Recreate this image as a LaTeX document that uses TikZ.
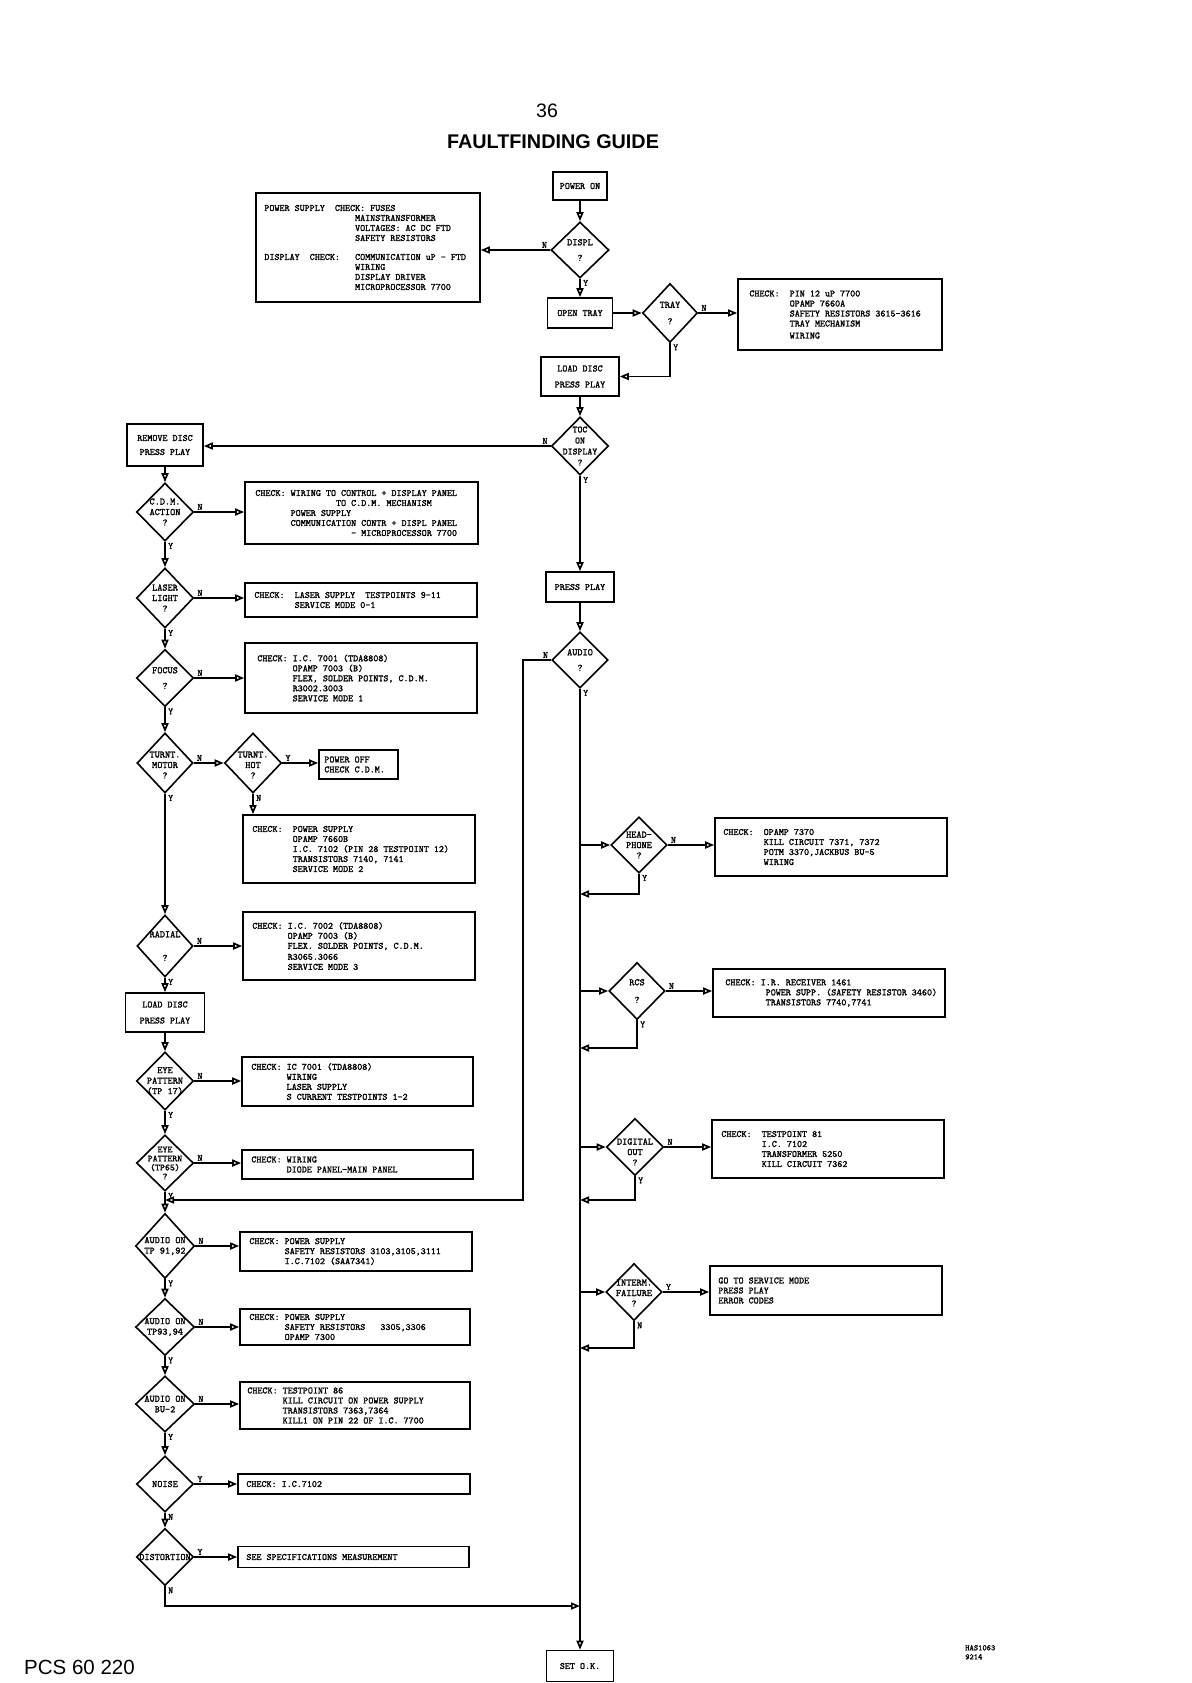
\documentclass[tikz,border=0pt]{standalone}
\usepackage{fontspec}
\newfontfamily\titlefont{Liberation Sans}
\newfontfamily\twfont{lmmono10-regular.otf}[FakeBold=1.6]
\usetikzlibrary{shapes.geometric,arrows.meta}
\newcommand\tab[1]{\hspace*{\dimexpr #1\fontcharwd\font`M\relax}}
\newcommand\boxfont{\twfont\fontsize{9.6}{10}\selectfont}
\newcommand\diafont{\twfont\fontsize{9.8}{10.5}\selectfont}
\newcommand\ynfont{\twfont\fontsize{9.4}{9}\selectfont}
\tikzset{
  boxs/.style n args={2}{draw, line width=1.6pt, rectangle, minimum width=#1pt, minimum height=#2pt, inner sep=0pt},
  btext/.style={font=\boxfont, align=left, inner sep=0pt},
  sbox/.style n args={2}{draw, line width=1.6pt, rectangle, minimum width=#1pt, minimum height=#2pt, inner sep=0pt, align=center, font=\boxfont},
  dia/.style n args={2}{draw, diamond, line width=1.6pt, minimum width=#1pt, minimum height=#2pt, inner sep=0pt},
  dtext/.style={font=\diafont, align=center, inner sep=0pt},
  arr/.style={line width=1.7pt, -{Triangle[open,length=9pt,width=7pt]}},
  yn/.style={font=\ynfont, inner sep=0pt},
  nE/.style={yn, anchor=south west, xshift=3pt, yshift=2pt},
  nW/.style={yn, anchor=south east, xshift=-3pt, yshift=2pt},
  nS/.style={yn, anchor=north west, xshift=3pt, yshift=-1pt},
}
% name, cx, cy, w, h, inset, text
\newcommand\cbox[7]{%
  \node[boxs={#4}{#5}] (#1) at (#2,#3) {};
  \node[btext, anchor=west] (#1-t) at ([xshift=#6pt]#1.west) {#7};}
\begin{document}
\begin{tikzpicture}[x=1pt,y=-1pt]
\useasboundingbox[fill=white] (0,0) rectangle (1191,1683);

% headings
\node[font=\titlefont\fontsize{19.5}{20}\selectfont] (pagenum) at (547,111) {36};
\node[font=\titlefont\bfseries\fontsize{19.8}{20}\selectfont] (title) at (553,142) {FAULTFINDING GUIDE};
\node[font=\titlefont\fontsize{20.5}{22}\selectfont, anchor=west, inner sep=0pt] (model) at (24,1667) {PCS 60 220};
\node[font=\twfont\fontsize{8.2}{9}\selectfont, align=left, anchor=north west, inner sep=0pt] (docref) at (965,1645) {HAS1063\\9214};

% ---------------- main column ----------------
\node[sbox={54}{28}] (poweron) at (580,186) {POWER ON};
\node[dia={58}{56}] (displ) at (580,250) {};
\node[dtext] (displ-t) at (displ) {DISPL\\[5pt]?};
\cbox{psbox}{368}{247.5}{224}{109}{9}{POWER SUPPLY~~CHECK: FUSES\\
\tab{18}MAINSTRANSFORMER\\
\tab{18}VOLTAGES: AC DC FTD\\
\tab{18}SAFETY RESISTORS\\[9pt]
DISPLAY~~CHECK:~~~COMMUNICATION uP - FTD\\
\tab{18}WIRING\\
\tab{18}DISPLAY DRIVER\\
\tab{18}MICROPROCESSOR 7700}
\node[sbox={65}{30}] (opentray) at (580,313) {OPEN TRAY};
\node[dia={55}{59}] (tray) at (670,313) {};
\node[dtext] (tray-t) at (tray) {TRAY\\[6pt]?};
\cbox{traybox}{840}{314.5}{204}{71}{12}{CHECK:~~PIN 12 uP 7700\\
\tab{8}OPAMP 7660A\\
\tab{8}SAFETY RESISTORS 3615-3616\\
\tab{8}TRAY MECHANISM\\[2pt]
\tab{8}WIRING}
\node[sbox={78}{39}] (load1) at (580,376.5) {LOAD DISC\\[6pt]PRESS PLAY};
\node[dia={57}{58}] (toc) at (580,446) {};
\node[dtext, font=\twfont\fontsize{9.4}{11}\selectfont] (toc-t) at (toc) {TOC\\ON\\DISPLAY\\?};
\node[sbox={68}{30}] (pressplay) at (580,587) {PRESS PLAY};
\node[dia={56}{56}] (audio) at (580,660) {};
\node[dtext] (audio-t) at (audio) {AUDIO\\[5pt]?};

\node[dia={56}{56}] (hp) at (639,845) {};
\node[dtext] (hp-t) at (hp) {HEAD-\\PHONE\\?};
\cbox{hpbox}{831}{847}{232}{58}{9}{CHECK:~~OPAMP 7370\\
\tab{8}KILL CIRCUIT 7371, 7372\\
\tab{8}POTM 3370,JACKBUS BU-5\\
\tab{8}WIRING}
\node[dia={56}{57}] (rcs) at (637,991) {};
\node[dtext] (rcs-t) at (rcs) {RCS\\[7pt]?};
\cbox{rcsbox}{829}{993}{232}{48}{13}{CHECK: I.R. RECEIVER 1461\\
\tab{8}POWER SUPP. (SAFETY RESISTOR 3460)\\
\tab{8}TRANSISTORS 7740,7741}
\node[dia={57}{57}] (dig) at (635,1147) {};
\node[dtext] (dig-t) at ([yshift=-5pt]dig.center) {DIGITAL\\OUT\\?};
\cbox{digbox}{828}{1149}{232}{58}{10}{CHECK:~~TESTPOINT 81\\
\tab{8}I.C. 7102\\
\tab{8}TRANSFORMER 5250\\
\tab{8}KILL CIRCUIT 7362}
\node[dia={56}{57}] (int) at (634,1292) {};
\node[dtext] (int-t) at ([yshift=-1pt]int.center) {INTERM.\\FAILURE\\?};
\cbox{intbox}{826}{1290.5}{232}{49}{9}{GO TO SERVICE MODE\\
PRESS PLAY\\
ERROR CODES}
\node[sbox={67}{31}] (setok) at (580,1666) {SET O.K.};

% ---------------- left column ----------------
\node[sbox={76}{42}] (remove) at (165,445) {REMOVE DISC\\[4pt]PRESS PLAY};
\node[dia={57}{58}] (cdm) at (165,512) {};
\node[dtext] (cdm-t) at (cdm) {C.D.M.\\ACTION\\?};
\cbox{cdmbox}{361.5}{513}{233}{62}{11}{CHECK: WIRING TO CONTROL + DISPLAY PANEL\\
\tab{16}TO C.D.M. MECHANISM\\
\tab{7}POWER SUPPLY\\
\tab{7}COMMUNICATION CONTR + DISPL PANEL\\
\tab{19}- MICROPROCESSOR 7700}
\node[dia={57}{60}] (laser) at (165,598) {};
\node[dtext] (laser-t) at (laser) {LASER\\LIGHT\\?};
\cbox{laserbox}{361}{600}{232}{34}{10}{CHECK:~~LASER SUPPLY~~TESTPOINTS 9-11\\
\tab{8}SERVICE MODE 0-1}
\node[dia={57}{57}] (focus) at (165,678) {};
\node[dtext] (focus-t) at (focus) {FOCUS\\[5pt]?};
\cbox{focusbox}{361}{678}{232}{70}{13}{CHECK: I.C. 7001 (TDA8808)\\
\tab{7}OPAMP 7003 (B)\\
\tab{7}FLEX, SOLDER POINTS, C.D.M.\\
\tab{7}R3002.3003\\
\tab{7}SERVICE MODE 1}
\node[dia={56}{60}] (motor) at (165,763) {};
\node[dtext] (motor-t) at ([yshift=-2pt]motor.center) {TURNT.\\MOTOR\\?};
\node[dia={57}{60}] (hot) at (253,763) {};
\node[dtext] (hot-t) at ([yshift=-2pt]hot.center) {TURNT.\\HOT\\?};
\cbox{poweroff}{358.5}{764.5}{79}{29}{6}{POWER OFF\\CHECK C.D.M.}
\cbox{ttbox}{359}{849}{232}{68}{10}{CHECK:~~POWER SUPPLY\\
\tab{8}OPAMP 7660B\\
\tab{8}I.C. 7102 (PIN 28 TESTPOINT 12)\\
\tab{8}TRANSISTORS 7140, 7141\\
\tab{8}SERVICE MODE 2}
\node[dia={56}{62}] (radial) at (165,946) {};
\node[dtext] (radial-t) at (radial) {RADIAL\\[13pt]?};
\cbox{radbox}{359}{946}{232}{68}{10}{CHECK: I.C. 7002 (TDA8808)\\
\tab{7}OPAMP 7003 (B)\\
\tab{7}FLEX. SOLDER POINTS, C.D.M.\\[1pt]
\tab{7}R3065.3066\\
\tab{7}SERVICE MODE 3}
\node[sbox={79}{39}] (load2) at (165,1012.5) {LOAD DISC\\[6pt]PRESS PLAY};
\node[dia={57}{58}] (tp17) at (165,1081) {};
\node[dtext] (tp17-t) at (tp17) {EYE\\PATTERN\\(TP 17)};
\cbox{tp17box}{357.5}{1081.5}{231}{49}{10}{CHECK: IC 7001 (TDA8808)\\
\tab{7}WIRING\\
\tab{7}LASER SUPPLY\\
\tab{7}S CURRENT TESTPOINTS 1-2}
\node[dia={57}{56}] (tp65) at (165,1163) {};
\node[dtext, font=\twfont\fontsize{9.4}{9}\selectfont] (tp65-t) at (tp65) {EYE\\PATTERN\\(TP65)\\?};
\cbox{tp65box}{357.5}{1164.5}{231}{29}{10}{CHECK: WIRING\\
\tab{7}DIODE PANEL-MAIN PANEL}
\coordinate (join) at (165,1200);
\coordinate (acol) at (523,1200);
\node[dia={59}{65}] (tp91) at (165,1246) {};
\node[dtext] (tp91-t) at (tp91) {AUDIO ON\\TP 91,92};
\cbox{tp91box}{356}{1251.5}{232}{39}{10}{CHECK: POWER SUPPLY\\
\tab{7}SAFETY RESISTORS 3103,3105,3111\\
\tab{7}I.C.7102 (SAA7341)}
\node[dia={59}{57}] (tp93) at (165,1327) {};
\node[dtext] (tp93-t) at (tp93) {AUDIO ON\\TP93,94};
\cbox{tp93box}{355}{1327}{230}{36}{10}{CHECK: POWER SUPPLY\\
\tab{7}SAFETY RESISTORS~~~3305,3306\\
\tab{7}OPAMP 7300}
\node[dia={59}{56}] (bu2) at (165,1404) {};
\node[dtext] (bu2-t) at (bu2) {AUDIO ON\\BU-2};
\cbox{bu2box}{355}{1405.5}{230}{47}{8}{CHECK: TESTPOINT 86\\
\tab{7}KILL CIRCUIT ON POWER SUPPLY\\
\tab{7}TRANSISTORS 7363,7364\\
\tab{7}KILL1 ON PIN 22 OF I.C. 7700}
\node[dia={57}{56}] (noise) at (165,1484) {};
\node[dtext] (noise-t) at (noise) {NOISE};
\cbox{noisebox}{354}{1484}{232}{20}{9}{CHECK: I.C.7102}
\node[dia={57}{57}] (dist) at (165,1557) {};
\node[dtext] (dist-t) at (dist) {DISTORTION};
\cbox{distbox}{353.5}{1557}{231}{21}{9}{SEE SPECIFICATIONS MEASUREMENT}

% return points on main column
\coordinate (hpret) at (580,894);
\coordinate (rcsret) at (580,1048);
\coordinate (digret) at (580,1200);
\coordinate (intret) at (580,1348);
\coordinate (dret) at (580,1606);

% ---------------- connectors: main ----------------
\draw[arr] (poweron.south) -- (displ.north);
\draw[arr] (displ.west) -- (displ.west -| psbox.east);
\draw[arr] (displ.south) -- (opentray.north);
\draw[arr] (opentray.east) -- (tray.west);
\draw[arr] (tray.east) -- (tray.east -| traybox.west);
\draw[arr] (tray.south) |- (load1.east);
\draw[arr] (load1.south) -- (toc.north);
\draw[arr] (toc.west) -- (toc.west -| remove.east);
\draw[arr] (toc.south) -- (pressplay.north);
\draw[arr] (pressplay.south) -- (audio.north);
\draw[arr] (audio.south) -- (setok.north);
\draw[arr] (audio.west) -| (acol) -- (join);
\draw[arr] (hp.west -| audio.south) -- (hp.west);
\draw[arr] (hp.east) -- (hp.east -| hpbox.west);
\draw[arr] (hp.south) |- (hpret);
\draw[arr] (rcs.west -| audio.south) -- (rcs.west);
\draw[arr] (rcs.east) -- (rcs.east -| rcsbox.west);
\draw[arr] (rcs.south) |- (rcsret);
\draw[arr] (dig.west -| audio.south) -- (dig.west);
\draw[arr] (dig.east) -- (dig.east -| digbox.west);
\draw[arr] (dig.south) |- (digret);
\draw[arr] (int.west -| audio.south) -- (int.west);
\draw[arr] (int.east) -- (int.east -| intbox.west);
\draw[arr] (int.south) |- (intret);

% ---------------- connectors: left ----------------
\draw[arr] (remove.south) -- (cdm.north);
\draw[arr] (cdm.east) -- (cdm.east -| cdmbox.west);
\draw[arr] (cdm.south) -- (laser.north);
\draw[arr] (laser.east) -- (laser.east -| laserbox.west);
\draw[arr] (laser.south) -- (focus.north);
\draw[arr] (focus.east) -- (focus.east -| focusbox.west);
\draw[arr] (focus.south) -- (motor.north);
\draw[arr] (motor.east) -- (hot.west);
\draw[arr] (hot.east) -- (hot.east -| poweroff.west);
\draw[arr] (hot.south) -- (hot.south |- ttbox.north);
\draw[arr] (motor.south) -- (radial.north);
\draw[arr] (radial.east) -- (radial.east -| radbox.west);
\draw[arr] (radial.south) -- (load2.north);
\draw[arr] (load2.south) -- (tp17.north);
\draw[arr] (tp17.east) -- (tp17.east -| tp17box.west);
\draw[arr] (tp17.south) -- (tp65.north);
\draw[arr] (tp65.east) -- (tp65.east -| tp65box.west);
\draw[arr] (tp65.south) -- (tp91.north);
\draw[arr] (tp91.east) -- (tp91.east -| tp91box.west);
\draw[arr] (tp91.south) -- (tp93.north);
\draw[arr] (tp93.east) -- (tp93.east -| tp93box.west);
\draw[arr] (tp93.south) -- (bu2.north);
\draw[arr] (bu2.east) -- (bu2.east -| bu2box.west);
\draw[arr] (bu2.south) -- (noise.north);
\draw[arr] (noise.east) -- (noise.east -| noisebox.west);
\draw[arr] (noise.south) -- (dist.north);
\draw[arr] (dist.east) -- (dist.east -| distbox.west);
\draw[arr] (dist.south) |- (dret);

% ---------------- Y / N labels ----------------
\node[nW] (displ-n) at (displ.west) {N};
\node[nS] (displ-y) at (displ.south) {Y};
\node[nE] (tray-n) at (tray.east) {N};
\node[nS] (tray-y) at (tray.south) {Y};
\node[nW] (toc-n) at (toc.west) {N};
\node[nS] (toc-y) at (toc.south) {Y};
\node[nW] (audio-n) at (audio.west) {N};
\node[nS] (audio-y) at (audio.south) {Y};
\node[nE] (hp-n) at (hp.east) {N};
\node[nS] (hp-y) at (hp.south) {Y};
\node[nE] (rcs-n) at (rcs.east) {N};
\node[nS] (rcs-y) at (rcs.south) {Y};
\node[nE] (dig-n) at (dig.east) {N};
\node[nS] (dig-y) at (dig.south) {Y};
\node[nE] (int-y) at (int.east) {Y};
\node[nS] (int-n) at (int.south) {N};
\node[nE] (cdm-n) at (cdm.east) {N};
\node[nS] (cdm-y) at (cdm.south) {Y};
\node[nE] (laser-n) at (laser.east) {N};
\node[nS] (laser-y) at (laser.south) {Y};
\node[nE] (focus-n) at (focus.east) {N};
\node[nS] (focus-y) at (focus.south) {Y};
\node[nE] (motor-n) at (motor.east) {N};
\node[nS] (motor-y) at (motor.south) {Y};
\node[nE] (hot-y) at (hot.east) {Y};
\node[nS] (hot-n) at (hot.south) {N};
\node[nE] (radial-n) at (radial.east) {N};
\node[nS] (radial-y) at (radial.south) {Y};
\node[nE] (tp17-n) at (tp17.east) {N};
\node[nS] (tp17-y) at (tp17.south) {Y};
\node[nE] (tp65-n) at (tp65.east) {N};
\node[nS] (tp65-y) at (tp65.south) {Y};
\node[nE] (tp91-n) at (tp91.east) {N};
\node[nS] (tp91-y) at (tp91.south) {Y};
\node[nE] (tp93-n) at (tp93.east) {N};
\node[nS] (tp93-y) at (tp93.south) {Y};
\node[nE] (bu2-n) at (bu2.east) {N};
\node[nS] (bu2-y) at (bu2.south) {Y};
\node[nE] (noise-y) at (noise.east) {Y};
\node[nS] (noise-n) at (noise.south) {N};
\node[nE] (dist-y) at (dist.east) {Y};
\node[nS] (dist-n) at (dist.south) {N};
\end{tikzpicture}
\end{document}
